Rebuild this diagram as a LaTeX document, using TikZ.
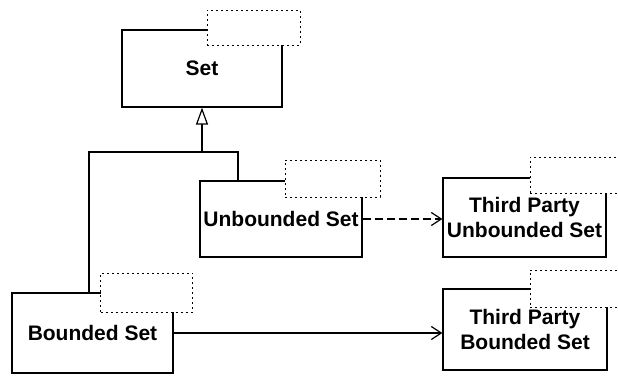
\documentclass[tikz,border=0pt]{standalone}
\usepackage{fontspec}
\setmainfont{Liberation Sans}
\usetikzlibrary{arrows.meta}
\begin{document}
\begin{tikzpicture}[x=1pt,y=-1pt,
  cls/.style={draw=black,line width=1.2pt,fill=white,rectangle,inner sep=0pt,
    font=\fontsize{21}{25}\selectfont\bfseries,align=center},
  tmpl/.style={draw=black,line width=0.8pt,dash pattern=on 2pt off 3pt,fill=white,rectangle,inner sep=0pt},
  conn/.style={draw=black,line width=1.2pt},
  dep/.style={conn,-{Straight Barb[length=10pt,width=13pt,line width=1.2pt]}}
]
\useasboundingbox (0,0) rectangle (618,375);
% classes
\node[cls,minimum width=160pt,minimum height=77pt] (set) at (202,68.5) {Set};
\node[cls,minimum width=162pt,minimum height=76pt] (ub) at (281,219) {Unbounded Set};
\node[cls,minimum width=161pt,minimum height=80pt] (bs) at (92.5,333) {Bounded Set};
\node[cls,minimum width=163pt,minimum height=79pt] (tpu) at (524.5,217.5) {Third Party\\Unbounded Set};
\node[cls,minimum width=164pt,minimum height=81pt] (tpb) at (525,329.5) {Third Party\\Bounded Set};
% template parameter boxes
\node[tmpl,minimum width=93pt,minimum height=35pt] (setT) at (253.5,27.5) {};
\node[tmpl,minimum width=95pt,minimum height=37pt] (ubT) at (332.5,178.5) {};
\node[tmpl,minimum width=92pt,minimum height=39pt] (bsT) at (146.5,292.5) {};
\node[tmpl,minimum width=100pt,minimum height=36pt] (tpuT) at (580,175) {};
\node[tmpl,minimum width=100pt,minimum height=37pt] (tpbT) at (580,288.5) {};
% generalization
\coordinate (j) at (set.south |- 0,152);
\coordinate (jl) at (89,152);
\coordinate (jr) at (238,152);
\draw[conn] (jl |- bs.north) -- (jl) -- (jr) -- (jr |- ub.north);
\draw[conn,-{Triangle[open,length=17pt,width=12pt,line width=1.2pt]}] (j) -- (set.south);
% dependencies
\draw[dep,dash pattern=on 8pt off 4pt] (ub.east) -- (tpu.west |- ub.east);
\draw[dep] (bs.east) -- (tpb.west |- bs.east);
\end{tikzpicture}
\end{document}
